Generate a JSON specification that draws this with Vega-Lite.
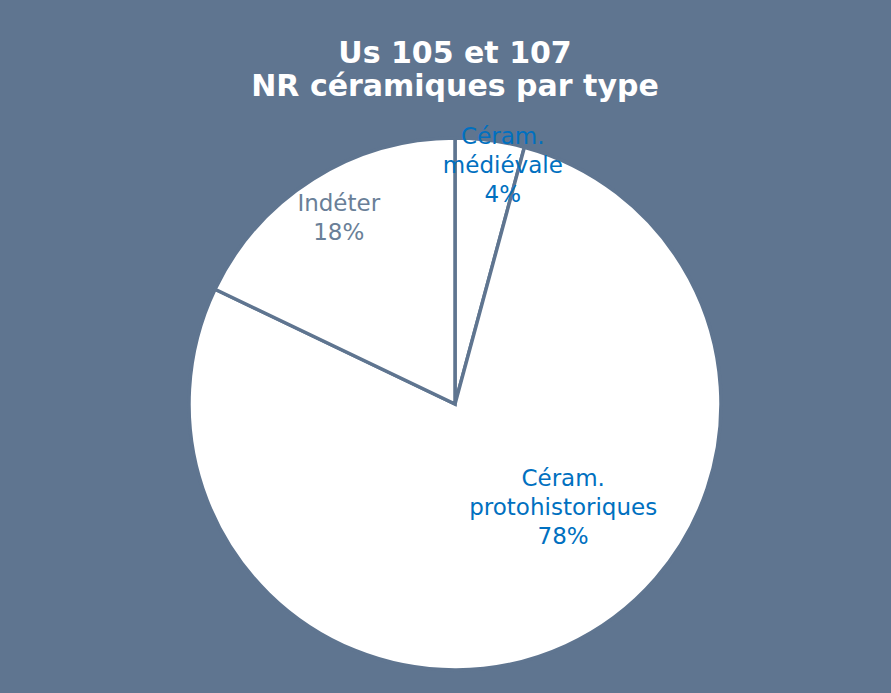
{
  "$schema": "https://vega.github.io/schema/vega-lite/v6.json",
  "width": 872,
  "height": 578,
  "autosize": "none",
  "padding": {"left": 19, "top": 115, "right": 0, "bottom": 0},
  "background": "#5f7590",
  "config": {"view": {"stroke": null}, "font": "DejaVu Sans"},
  "title": {
    "text": ["Us 105 et 107", "NR céramiques par type"],
    "font": "DejaVu Sans",
    "fontSize": 30,
    "fontWeight": "bold",
    "color": "white",
    "lineHeight": 33,
    "anchor": "middle",
    "offset": 13
  },
  "data": {
    "values": [
      {"type": "Céram. médiévale", "pct": 4.2, "label": "Céram.\nmédiévale\n4%"},
      {"type": "Céram. protohistoriques", "pct": 77.9, "label": "Céram.\nprotohistoriques\n78%"},
      {"type": "Indéter", "pct": 17.9, "label": "Indéter\n18%"}
    ]
  },
  "encoding": {
    "theta": {"field": "pct", "type": "quantitative", "stack": true},
    "order": {"field": "type", "type": "nominal", "sort": "ascending"}
  },
  "layer": [
    {
      "mark": {"type": "arc", "radius": 266, "fill": "white", "stroke": "#5f7590", "strokeWidth": 3.5}
    },
    {
      "mark": {"type": "text", "radius": 242, "dx": 16, "dy": -27, "fontSize": 23, "color": "#0070c0", "lineBreak": "\n", "lineHeight": 29, "baseline": "middle", "align": "center"},
      "encoding": {"text": {"condition": {"test": "datum.type === 'Céram. médiévale'", "field": "label"}, "value": ""}}
    },
    {
      "mark": {"type": "text", "radius": 149, "dx": 46, "dy": -60, "fontSize": 23, "color": "#0070c0", "lineBreak": "\n", "lineHeight": 29, "baseline": "middle", "align": "center"},
      "encoding": {"text": {"condition": {"test": "datum.type === 'Céram. protohistoriques'", "field": "label"}, "value": ""}}
    },
    {
      "mark": {"type": "text", "radius": 218, "dy": -16, "fontSize": 23, "color": "#6a7f98", "lineBreak": "\n", "lineHeight": 29, "baseline": "middle", "align": "center"},
      "encoding": {"text": {"condition": {"test": "datum.type === 'Indéter'", "field": "label"}, "value": ""}}
    }
  ]
}
